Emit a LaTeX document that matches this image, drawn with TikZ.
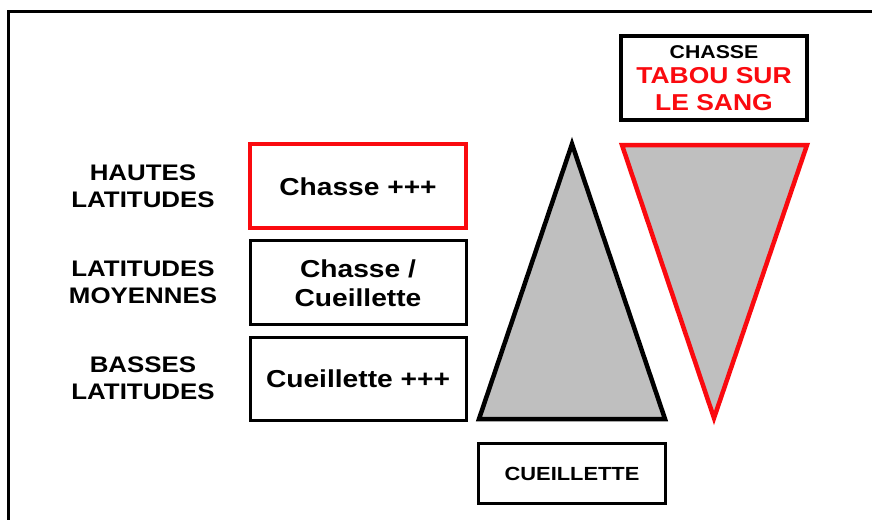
\documentclass[tikz,border=0pt]{standalone}
\usepackage{fontspec}
\setmainfont{Liberation Sans}[FakeStretch=1.15]
\begin{document}
\begin{tikzpicture}[x=1pt,y=-1pt,
  frame/.style={line width=3pt,draw=black},
  cell/.style={draw=black,line width=3pt,fill=white,inner sep=0pt},
  lbl/.style={align=center,font=\bfseries\fontsize{22.5}{27}\selectfont},
  celltext/.style={align=center,font=\bfseries\fontsize{24.5}{29}\selectfont},
  pyramid/.style={fill=gray!50,line width=4.5pt,line join=miter}]
\definecolor{vivid}{RGB}{250,10,15}
\useasboundingbox (0,0) rectangle (872,519);
% outer frame, running off the page to the right and bottom
\draw[frame] (890,12) -- (8,12) -- (8,540);

% latitude labels
\node[lbl] (hautes) at (143,186) {HAUTES\\LATITUDES};
\node[lbl] (moyennes) at (143,282) {LATITUDES\\MOYENNES};
\node[lbl] (basses) at (143,378) {BASSES\\LATITUDES};

% activity boxes
\draw[cell,draw=vivid,line width=3.6pt] (250,144) rectangle (466,228);
\node[celltext] (chasse) at (358,187) {Chasse +++};
\draw[cell] (250,240) rectangle (466,324);
\node[celltext] (mixte) at (358,283) {Chasse /\\Cueillette};
\draw[cell] (250,337) rectangle (466,420);
\node[celltext] (cueil) at (358,379) {Cueillette +++};

% gathering pyramid
\coordinate (apex) at (572,144);
\coordinate (bl) at (479,419);
\coordinate (br) at (665,419);
\draw[pyramid,draw=black] (bl) -- (apex) -- (br) -- cycle;
\draw[cell] (478,443) rectangle (665,503);
\node[font=\bfseries\fontsize{19}{22}\selectfont] (cueilbox) at (572,474) {CUEILLETTE};

% hunting pyramid, inverted
\coordinate (tl) at (622,145);
\coordinate (tr) at (807,145);
\coordinate (tip) at (714,418);
\draw[pyramid,draw=vivid] (tl) -- (tr) -- (tip) -- cycle;
\draw[cell,line width=3.4pt] (621,36) rectangle (807,120);
\node[font=\bfseries\fontsize{18.5}{22}\selectfont] (chassehead) at (714,52) {CHASSE};
\node[font=\bfseries\fontsize{23}{27}\selectfont,text=vivid,align=center]
  (tabou) at (714,89) {TABOU SUR\\LE SANG};
\end{tikzpicture}
\end{document}
